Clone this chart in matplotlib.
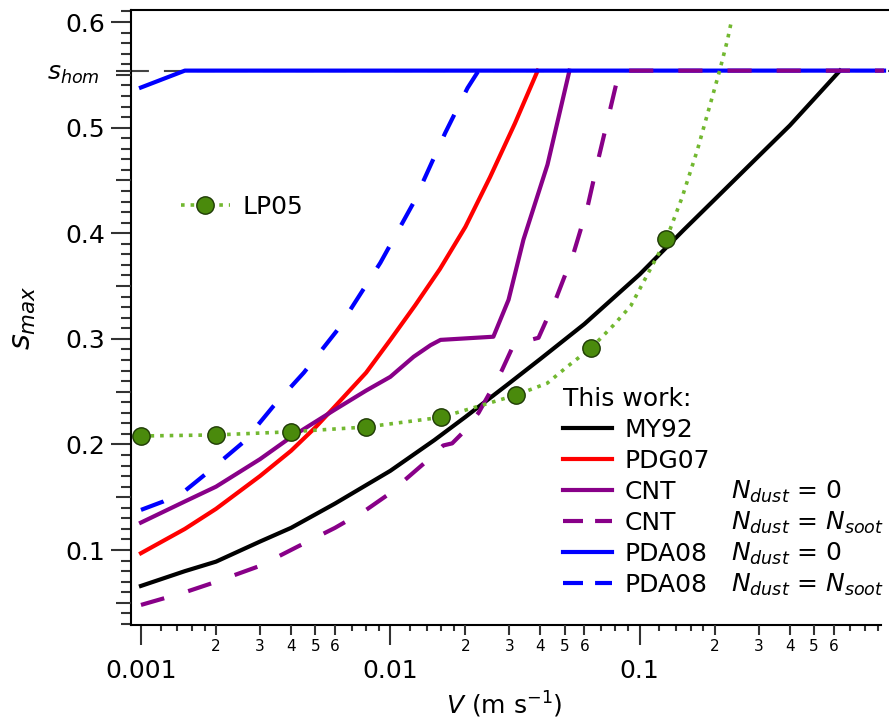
import matplotlib
matplotlib.use('Agg')
import matplotlib.pyplot as plt
from matplotlib.lines import Line2D
from matplotlib.ticker import NullLocator, NullFormatter

s_hom = 0.554

# MY92 (black)
v_my92 = [0.001, 0.0015, 0.002, 0.003, 0.004, 0.006, 0.01, 0.015, 0.02, 0.03, 0.04, 0.06,
          0.1, 0.15, 0.2, 0.3, 0.4, 0.5, 0.636]
s_my92 = [0.066, 0.080, 0.089, 0.108, 0.121, 0.144, 0.175, 0.204, 0.226, 0.258, 0.281, 0.314,
          0.361, 0.403, 0.432, 0.473, 0.502, 0.527, 0.554]

# PDG07 (red)
v_pdg07 = [0.001, 0.0015, 0.002, 0.003, 0.004, 0.005, 0.006, 0.008, 0.01, 0.0126, 0.0158,
           0.02, 0.0251, 0.0316, 0.039]
s_pdg07 = [0.097, 0.120, 0.139, 0.170, 0.194, 0.216, 0.236, 0.268, 0.299, 0.332, 0.366,
           0.406, 0.453, 0.504, 0.554]

# CNT, Ndust = 0
v_cnt0 = [0.001, 0.0015, 0.002, 0.003, 0.004, 0.006, 0.008, 0.01, 0.0124, 0.0145, 0.0159,
          0.0259, 0.0298, 0.0342, 0.0427, 0.0523]
s_cnt0 = [0.126, 0.146, 0.160, 0.186, 0.207, 0.233, 0.251, 0.264, 0.283, 0.294, 0.299,
          0.302, 0.337, 0.394, 0.465, 0.554]

# CNT, Ndust = Nsoot
v_cnt_soot = [0.001, 0.0015, 0.00195, 0.003, 0.00423, 0.006, 0.008, 0.00973, 0.0138, 0.0163,
              0.0177, 0.0195, 0.0226, 0.0252, 0.028, 0.0309, 0.0365, 0.0393, 0.046, 0.0543,
              0.0618, 0.0684, 0.0801, 0.0831, 0.955]
s_cnt_soot = [0.048, 0.060, 0.069, 0.085, 0.103, 0.121, 0.138, 0.152, 0.183, 0.199,
              0.201, 0.211, 0.230, 0.250, 0.270, 0.292, 0.299, 0.301, 0.337, 0.381,
              0.425, 0.471, 0.539, 0.554, 0.554]

# PDA08, Ndust = 0
v_pda0 = [0.001, 0.0015, 0.955]
s_pda0 = [0.538, 0.554, 0.554]

# PDA08, Ndust = Nsoot
v_pda_soot = [0.001, 0.00123, 0.0015, 0.00184, 0.0026, 0.00339, 0.0045, 0.00612, 0.00912,
              0.0124, 0.0166, 0.0204, 0.0226]
s_pda_soot = [0.138, 0.146, 0.156, 0.173, 0.203, 0.236, 0.268, 0.308, 0.372,
              0.429, 0.495, 0.5375, 0.554]

# LP05 markers and dotted curve
v_lp05 = [0.001, 0.002, 0.004, 0.008, 0.016, 0.032, 0.064, 0.128]
s_lp05 = [0.208, 0.209, 0.212, 0.2165, 0.2257, 0.2468, 0.2915, 0.3945]
v_lp05_line = [0.001, 0.002, 0.004, 0.008, 0.016, 0.032, 0.0426, 0.0512, 0.064, 0.0786, 0.092,
               0.128, 0.148, 0.1705, 0.2096, 0.225, 0.232]
s_lp05_line = [0.208, 0.209, 0.212, 0.2165, 0.2257, 0.2468, 0.258, 0.2736, 0.2915, 0.313, 0.331,
               0.3945, 0.434, 0.479, 0.5545, 0.583, 0.598]

x_major = [0.001, 0.01, 0.1]
x_major_labels = ['0.001', '0.01', '0.1']
x_mid = [m * d for d in x_major for m in (2, 3, 4, 5, 6)]
x_mid_labels = [str(m) for d in x_major for m in (2, 3, 4, 5, 6)]
x_minor = [m * d for d in x_major for m in (1.2, 1.4, 1.6, 1.8, 7, 8, 9)]
y_major = [0.1, 0.2, 0.3, 0.4, 0.5, 0.6]
y_mid = [0.05, 0.15, 0.25, 0.35, 0.45, 0.55]
y_minor = [i / 100 for i in range(3, 62) if i % 5 != 0]

purple = '#880088'
green_line = '#72b830'
dash = (0, (5.8, 6.0))
tick_c = '#333333'

fig = plt.figure(figsize=(8.89, 7.25), dpi=100)
ax = fig.add_axes([131 / 889, 1 - 625 / 725, (889 - 131) / 889, (625 - 10) / 725])
ax.set_xscale('log')
ax.set_xlim(0.000912, 1.0)
ax.set_ylim(0.029, 0.6114)

ax.axhline(s_hom, color='#444444', lw=1.5, ls=(0, (8.6, 7.2)), zorder=1)
ax.plot(v_my92, s_my92, color='black', lw=3, zorder=3)
ax.plot(v_pdg07, s_pdg07, color='red', lw=3, zorder=3)
ax.plot(v_cnt0, s_cnt0, color=purple, lw=3, zorder=3)
ax.plot(v_pda_soot, s_pda_soot, color='blue', lw=3, ls=dash, zorder=3)
ax.plot(v_pda0, s_pda0, color='blue', lw=3, zorder=4)
ax.plot(v_cnt_soot, s_cnt_soot, color=purple, lw=3, ls=dash, zorder=5)
ax.plot(v_lp05_line, s_lp05_line, color=green_line, lw=2.6, ls=':', zorder=6)
ax.plot(v_lp05, s_lp05, ls='none', marker='o', ms=12.5, mfc='#4a8a0c',
        mec='#1e3a05', mew=1.0, zorder=7)

for side in ('left', 'bottom', 'top'):
    ax.spines[side].set_linewidth(1.5)
ax.spines['right'].set_visible(False)
ax.spines['bottom'].set_bounds(0.000912, 0.93)

ax.set_xticks(x_major, x_major_labels)
ax.set_xticks(x_minor, minor=True)
ax.xaxis.set_minor_formatter(NullFormatter())
ax.tick_params(axis='x', which='major', length=14.4, width=1.5, labelsize=18, pad=10, color=tick_c)
ax.tick_params(axis='x', which='minor', length=4.5, width=1.5, color=tick_c)
ax.set_yticks(y_major, ['0.1', '0.2', '0.3', '0.4', '0.5', '0.6'])
ax.set_yticks(y_minor, minor=True)
ax.yaxis.set_minor_formatter(NullFormatter())
ax.tick_params(axis='y', which='major', length=14.4, width=1.5, labelsize=18, pad=4, color=tick_c)
ax.tick_params(axis='y', which='minor', length=7.5, width=1.5, color=tick_c)

# labelled 2..6 ticks on the log axis
ax2 = ax.twiny()
ax2.set_xscale('log')
ax2.set_xlim(ax.get_xlim())
ax2.xaxis.set_ticks_position('bottom')
ax2.set_xticks(x_mid, x_mid_labels)
ax2.xaxis.set_minor_locator(NullLocator())
ax2.tick_params(axis='x', length=7.2, width=1.5, labelsize=11, pad=3, color=tick_c)
for sp in ax2.spines.values():
    sp.set_visible(False)

# 0.x5 ticks and s_hom label
ax3 = ax.twinx()
ax3.set_ylim(ax.get_ylim())
ax3.yaxis.set_ticks_position('left')
ax3.set_yticks(y_mid + [s_hom], [''] * len(y_mid) + [r'$s_{hom}$'])
ax3.yaxis.set_minor_locator(NullLocator())
ax3.tick_params(axis='y', length=10.5, width=1.5, labelsize=18, pad=12, color=tick_c)
for sp in ax3.spines.values():
    sp.set_visible(False)

ax.set_xlabel(r'$V$ (m s$^{-1}$)', fontsize=18, labelpad=9)
ax.xaxis.set_label_coords((504 - 131) / (889 - 131), -0.105)
ax.set_ylabel(r'$s_{max}$', fontsize=22, labelpad=20)

# legends
h_lp = Line2D([], [], color=green_line, lw=2.6, ls=':', marker='o', ms=12.5,
              mfc='#4a8a0c', mec='#1e3a05', mew=1.0)
leg_dash = (0, (4.8, 2.9))
handles = [Line2D([], [], color='black', lw=3),
           Line2D([], [], color='red', lw=3),
           Line2D([], [], color=purple, lw=3),
           Line2D([], [], color=purple, lw=3, ls=leg_dash),
           Line2D([], [], color='blue', lw=3),
           Line2D([], [], color='blue', lw=3, ls=leg_dash)]
labels = ['MY92', 'PDG07', 'CNT', 'CNT', 'PDA08', 'PDA08']
leg1 = ax.legend(handles, labels, loc='upper left', bbox_to_anchor=(563 / 889, 1 - 387 / 725),
                 bbox_transform=fig.transFigure, frameon=False, title='This work:',
                 title_fontsize=18, fontsize=18, handlelength=1.95, handletextpad=0.5,
                 labelspacing=0.28, borderpad=0, borderaxespad=0, alignment='left')
ax.add_artist(leg1)
ax.legend([h_lp], ['LP05'], loc='upper left', bbox_to_anchor=(181 / 889, 1 - 195 / 725),
          bbox_transform=fig.transFigure, frameon=False, fontsize=18, handlelength=1.95,
          handletextpad=0.5, borderpad=0, borderaxespad=0)

cond = [None, None, r'$N_{dust}$ = 0', r'$N_{dust}$ = $N_{soot}$',
        r'$N_{dust}$ = 0', r'$N_{dust}$ = $N_{soot}$']
fig.canvas.draw()
fh = fig.bbox.height
for t, c in zip(leg1.get_texts(), cond):
    if c is None:
        continue
    bx, by = t.get_transform().transform(t.get_position())
    fig.text(731 / 889, by / fh, c, fontsize=18, va='baseline', ha='left')

fig.savefig('out.png', dpi=100)
